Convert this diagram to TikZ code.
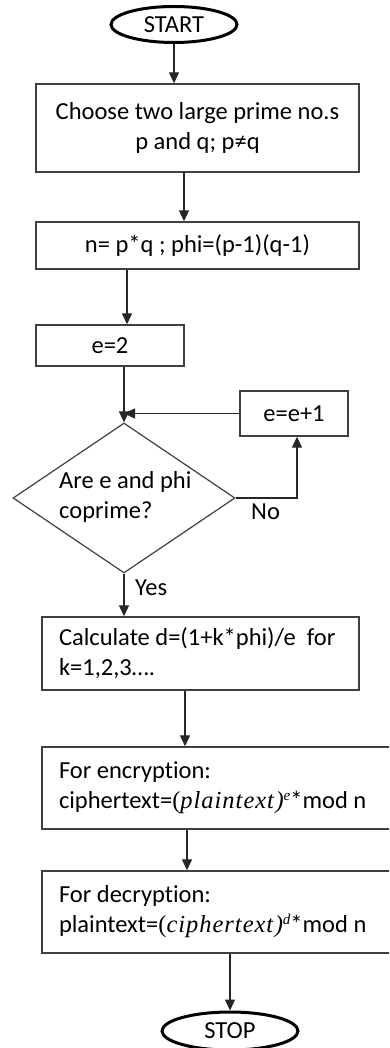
\documentclass[tikz,border=0pt]{standalone}
\usepackage{fontspec}
\setmainfont[Ligatures={NoCommon}]{Carlito}
\newfontfamily\cmit[LetterSpace=4]{Liberation Serif}
\usetikzlibrary{arrows.meta,shapes.geometric}
\definecolor{boxline}{HTML}{404040}
\newcommand{\fsz}{\fontsize{24.5}{30}\selectfont}
\newcommand{\ind}{\hspace*{17pt}}
\newcommand{\mvar}[1]{{\cmit(\itshape #1\/)}}
\newcommand{\msup}[1]{\raisebox{8pt}{\cmit\itshape\fontsize{15}{15}\selectfont #1}}
\tikzset{
  x=1pt, y=-1pt,
  box/.style={draw=boxline, line width=1.4pt, rectangle, inner sep=0pt, align=center, font=\fsz},
  lbox/.style={box, align=flush left, inner sep=0pt},
  term/.style={draw=black, line width=3pt, ellipse, inner sep=0pt, font=\fsz},
  arr/.style={draw=black!85, line width=1.3pt, -{Triangle[length=11pt,width=10pt]}},
  lbl/.style={font=\fsz, inner sep=0pt}
}
\begin{document}
\begin{tikzpicture}
\useasboundingbox (0,0) rectangle (389,1048);
\fill[white] (0,0) rectangle (389,1048);
\clip (0,0) rectangle (389,1048);

\node[term, minimum width=126pt, minimum height=36pt] (start) at (174,24.5) {START};
\node[box, minimum width=323pt, minimum height=88pt] (b1) at (197.5,128) {Choose two large prime no.s\\p and q; p≠q};
\node[box, minimum width=323pt, minimum height=47pt] (b2) at (197.5,245.5) {n= p*q ; phi=(p-1)(q-1)};
\node[box, minimum width=148pt, minimum height=41pt] (e2) at (110,345.5) {e=2};
\node[box, minimum width=108pt, minimum height=45pt] (inc) at (294,413.5) {e=e+1};
\node[draw=boxline, line width=1.2pt, diamond, minimum width=222pt, minimum height=150pt, inner sep=0pt] (dia) at (124,498) {};
\node[lbl, align=left, anchor=west] (diatxt) at (59,497) {Are e and phi\\coprime?};
\node[lbox, text width=317pt, minimum height=73pt] (calc) at (200.5,653.5) {\ind Calculate d=(1+k*phi)/e\ \ for\\\ind k=1,2,3\dots.};
\node[lbox, text width=358pt, minimum height=82pt] (enc) at (221,788) {\ind For encryption:\\\ind ciphertext=\mvar{plaintext}\msup{e}*mod n};
\node[lbox, text width=358pt, minimum height=82pt] (dec) at (221,912) {\ind For decryption:\\\ind plaintext=\mvar{ciphertext}\msup{d}*mod n};
\node[term, minimum width=136pt, minimum height=38pt] (stop) at (230,1031) {STOP};

\coordinate (xa) at (184,0);
\coordinate (xb) at (185,0);
\coordinate (xc) at (187,0);
\coordinate (xd) at (297,0);
\coordinate (xe) at (127,0);

\draw[arr] (start.south) -- (b1.north -| start.south);
\draw[arr] (b1.south -| xa) -- (b2.north -| xa);
\draw[arr] (b2.south -| xe) -- (e2.north -| xe);
\draw[arr] (e2.south -| dia.north) -- (dia.north);
\draw[arr] (inc.west) -- (inc.west -| dia.north);
\draw[arr] (dia.east) -| (inc.south -| xd);
\draw[arr] (dia.south) -- (calc.north -| dia.south);
\draw[arr] (calc.south -| xb) -- (enc.north -| xb);
\draw[arr] (enc.south -| xc) -- (dec.north -| xc);
\draw[arr] (dec.south -| stop.north) -- (stop.north);

\node[lbl, anchor=west] (no) at (251,512) {No};
\node[lbl, anchor=west] (yes) at (135,588) {Yes};
\end{tikzpicture}
\end{document}
